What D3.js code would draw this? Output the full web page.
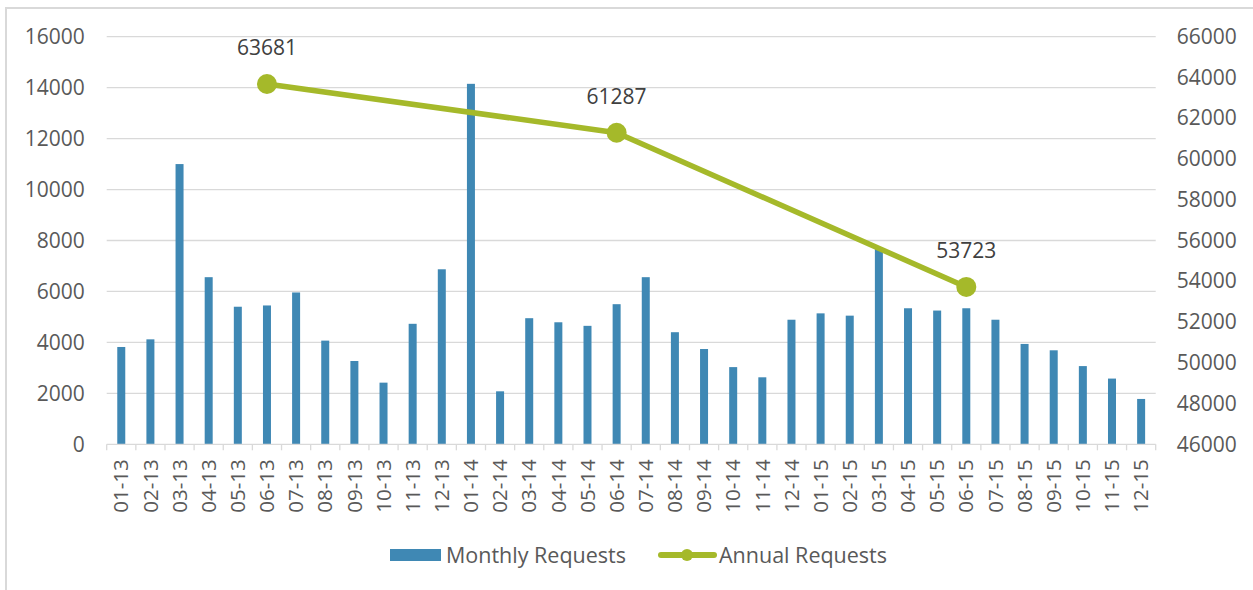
<!DOCTYPE html>
<html><head><meta charset="utf-8">
<script src="https://cdn.jsdelivr.net/npm/d3@7"></script>
<style>
html,body{margin:0;padding:0;background:#fff;}
svg{display:block;font-family:"Open Sans",sans-serif;}
</style></head>
<body>
<svg id="chart" width="1253" height="590"></svg>
<script>
const categories = ["01-13","02-13","03-13","04-13","05-13","06-13","07-13","08-13","09-13","10-13","11-13","12-13",
"01-14","02-14","03-14","04-14","05-14","06-14","07-14","08-14","09-14","10-14","11-14","12-14",
"01-15","02-15","03-15","04-15","05-15","06-15","07-15","08-15","09-15","10-15","11-15","12-15"];
const monthlyRequests = [3820,4120,11000,6560,5400,5450,5960,4070,3270,2420,4730,6870,
14150,2080,4950,4790,4650,5500,6560,4400,3740,3030,2630,4890,
5140,5050,7720,5340,5250,5340,4890,3940,3690,3070,2580,1780];
const annualCategories = ["06-13","06-14","06-15"];
const annualRequests = [63681,61287,53723];
const leftTicks = [0,2000,4000,6000,8000,10000,12000,14000,16000];
const rightTicks = [46000,48000,50000,52000,54000,56000,58000,60000,62000,64000,66000];

const svg = d3.select("#chart");
const barColor = "#3f88b4", lineColor = "#a5b92a", textColor = "#595959";
const plot = {left:106.7, right:1155.7, top:36.7, bottom:444.3};
const fs = 21;

// outer border
svg.append("rect").attr("x",6).attr("y",8).attr("width",1262).attr("height",600)
  .attr("fill","none").attr("stroke","#d9d9d9").attr("stroke-width",2);

const x = d3.scaleBand().domain(categories).range([plot.left, plot.right]).padding(0);
const yL = d3.scaleLinear().domain([0,16000]).range([plot.bottom, plot.top]);
const yR = d3.scaleLinear().domain([46000,66000]).range([plot.bottom, plot.top]);

// gridlines
svg.append("g").selectAll("line").data(leftTicks.slice(1)).join("line")
  .attr("x1",plot.left).attr("x2",plot.right)
  .attr("y1",d=>yL(d)).attr("y2",d=>yL(d))
  .attr("stroke","#d9d9d9").attr("stroke-width",1.3);

// left axis
const gL = svg.append("g").attr("transform",`translate(${plot.left},0)`)
  .call(d3.axisLeft(yL).tickValues(leftTicks).tickSize(0).tickPadding(22).tickFormat(d3.format("d")));
gL.select(".domain").remove();
gL.selectAll("text").attr("font-size",fs).attr("fill",textColor).attr("font-family","Open Sans");

// right axis
const gR = svg.append("g").attr("transform",`translate(${plot.right},0)`)
  .call(d3.axisRight(yR).tickValues(rightTicks).tickSize(0).tickPadding(21).tickFormat(d3.format("d")));
gR.select(".domain").remove();
gR.selectAll("text").attr("font-size",fs).attr("fill",textColor).attr("font-family","Open Sans");

// bars
const barW = 8;
svg.append("g").selectAll("rect").data(monthlyRequests).join("rect")
  .attr("x",(d,i)=>x(categories[i])+x.bandwidth()/2-barW/2)
  .attr("width",barW)
  .attr("y",d=>yL(d)).attr("height",d=>yL(0)-yL(d))
  .attr("fill",barColor);

// baseline & ticks
svg.append("line").attr("x1",plot.left).attr("x2",plot.right)
  .attr("y1",yL(0)).attr("y2",yL(0)).attr("stroke","#d9d9d9").attr("stroke-width",1.3);
const bounds = categories.map(c=>x(c)).concat([plot.right]);
svg.append("g").selectAll("line").data(bounds).join("line")
  .attr("x1",d=>d).attr("x2",d=>d).attr("y1",yL(0)).attr("y2",yL(0)+6)
  .attr("stroke","#d9d9d9").attr("stroke-width",1.3);

// x labels
const gX = svg.append("g").attr("transform",`translate(0,${yL(0)})`)
  .call(d3.axisBottom(x).tickSize(0).tickPadding(0));
gX.select(".domain").remove();
gX.selectAll("text")
  .attr("transform","rotate(-90)")
  .attr("x",-15).attr("y",0).attr("dy","0.35em")
  .attr("text-anchor","end")
  .attr("font-size",20.5).attr("fill",textColor).attr("font-family","Open Sans");

// line
const pts = annualCategories.map((c,i)=>[x(c)+x.bandwidth()/2, yR(annualRequests[i]), annualRequests[i]]);
svg.append("path").datum(pts)
  .attr("d",d3.line().x(d=>d[0]).y(d=>d[1]))
  .attr("fill","none").attr("stroke",lineColor).attr("stroke-width",5.5).attr("stroke-linejoin","round");
svg.append("g").selectAll("circle").data(pts).join("circle")
  .attr("cx",d=>d[0]).attr("cy",d=>d[1]).attr("r",10).attr("fill",lineColor);
svg.append("g").selectAll("text").data(pts).join("text")
  .attr("x",d=>d[0]).attr("y",d=>d[1]-36).attr("dy","0.35em")
  .attr("text-anchor","middle").attr("font-size",fs).attr("fill","#404040")
  .text(d=>d[2]);

// legend
const lg = svg.append("g");
lg.append("rect").attr("x",390).attr("y",549).attr("width",51).attr("height",12).attr("fill",barColor);
lg.append("text").attr("x",446).attr("y",555).attr("dy","0.35em").attr("font-size",fs+0.5).attr("fill",textColor).text("Monthly Requests");
lg.append("line").attr("x1",661).attr("x2",714).attr("y1",555).attr("y2",555)
  .attr("stroke",lineColor).attr("stroke-width",6).attr("stroke-linecap","round");
lg.append("circle").attr("cx",687).attr("cy",555).attr("r",6).attr("fill",lineColor);
lg.append("text").attr("x",719).attr("y",555).attr("dy","0.35em").attr("font-size",fs+0.5).attr("fill",textColor).text("Annual Requests");
</script>
</body></html>
